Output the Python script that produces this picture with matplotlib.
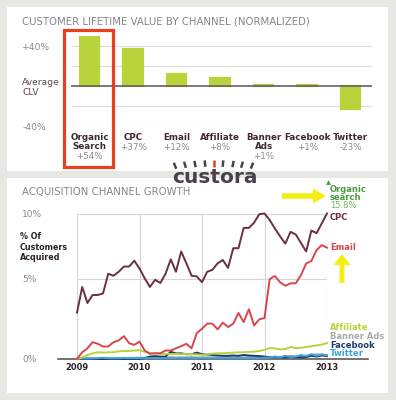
import numpy as np
import matplotlib
matplotlib.use('Agg')
import matplotlib.pyplot as plt
import matplotlib.patches as patches
from matplotlib.transforms import blended_transform_factory

# top chart: customer lifetime value by channel, normalized to the average
channels = ['Organic\nSearch', 'CPC', 'Email', 'Affiliate', 'Banner\nAds', 'Facebook', 'Twitter']
clv = [54, 37, 12, 8, 1, 1, -23]
clv_ticks = [40, 0, -40]
clv_ticklabels = ['+40%', 'Average\nCLV', '-40%']

# bottom chart: % of customers acquired per month, Jan 2009 .. Jan 2013
years = [2009, 2010, 2011, 2012, 2013]
cpc = [2.9, 4.5, 3.5, 4.0, 4.0, 4.1, 5.4, 5.25, 5.55, 5.95, 5.95, 6.4, 5.8,
       5.05, 4.5, 4.95, 4.75, 5.4, 6.5, 5.55, 7.1, 6.2, 5.25, 5.2, 4.8,
       5.55, 5.7, 6.2, 6.45, 5.85, 7.35, 7.35, 8.9, 8.9, 9.3, 9.95, 10.0,
       9.5, 8.85, 8.25, 7.7, 8.6, 8.4, 7.75, 7.1, 8.7, 8.5, 9.25, 10.0]
email = [0.0, 0.42, 0.67, 1.05, 0.95, 0.78, 0.78, 1.05, 1.16, 1.43, 0.99, 0.88, 1.09,
         0.53, 0.32, 0.36, 0.36, 0.53, 0.53, 0.67, 0.8, 0.95, 0.67, 1.62, 1.89,
         2.21, 2.21, 1.85, 2.27, 2.0, 2.21, 2.88, 2.31, 3.11, 2.1, 2.48, 2.56,
         5.0, 5.23, 4.79, 4.58, 4.73, 4.73, 5.3, 6.19, 6.37, 7.21, 7.59, 7.39]
affiliate = [0.0, 0.1, 0.25, 0.35, 0.42, 0.4, 0.42, 0.42, 0.48, 0.5, 0.5, 0.53, 0.55,
             0.45, 0.38, 0.34, 0.32, 0.32, 0.3, 0.32, 0.3, 0.32, 0.3, 0.28, 0.26,
             0.3, 0.33, 0.36, 0.36, 0.38, 0.4, 0.42, 0.42, 0.44, 0.46, 0.5, 0.58,
             0.68, 0.66, 0.6, 0.62, 0.75, 0.68, 0.7, 0.75, 0.8, 0.85, 0.9, 1.0]
banner = [0.05, 0.05, 0.06, 0.06, 0.05, 0.06, 0.07, 0.06, 0.06, 0.07, 0.07, 0.08, 0.08,
          0.08, 0.1, 0.1, 0.09, 0.1, 0.12, 0.1, 0.1, 0.11, 0.12, 0.1, 0.1,
          0.1, 0.11, 0.1, 0.1, 0.12, 0.11, 0.1, 0.1, 0.12, 0.1, 0.1, 0.12,
          0.12, 0.14, 0.12, 0.15, 0.2, 0.15, 0.18, 0.2, 0.25, 0.3, 0.28, 0.25]
facebook = [0.0, 0.0, 0.0, 0.0, 0.0, 0.0, 0.0, 0.0, 0.0, 0.0, 0.0, 0.0, 0.0,
            0.05, 0.15, 0.18, 0.15, 0.15, 0.45, 0.35, 0.35, 0.3, 0.3, 0.4, 0.3,
            0.28, 0.25, 0.22, 0.2, 0.2, 0.22, 0.2, 0.25, 0.22, 0.2, 0.18, 0.15,
            0.12, 0.12, 0.1, 0.1, 0.12, 0.1, 0.1, 0.12, 0.2, 0.15, 0.22, 0.18]
twitter = [0.02, 0.03, 0.03, 0.04, 0.05, 0.08, 0.05, 0.04, 0.05, 0.06, 0.05, 0.05, 0.05,
           0.05, 0.06, 0.05, 0.05, 0.06, 0.05, 0.05, 0.06, 0.05, 0.05, 0.05, 0.06,
           0.05, 0.05, 0.06, 0.05, 0.05, 0.06, 0.05, 0.06, 0.05, 0.05, 0.06, 0.08,
           0.1, 0.15, 0.1, 0.2, 0.12, 0.15, 0.25, 0.18, 0.3, 0.2, 0.28, 0.22]

series = [('Banner Ads', banner, '#a9a9a9'),
          ('Facebook', facebook, '#1f3a6b'),
          ('Twitter', twitter, '#3aa3dc'),
          ('Affiliate', affiliate, '#b6d43a'),
          ('Email', email, '#d8464c'),
          ('CPC', cpc, '#6a2e46')]

W, H = 396, 400
LIME = '#b8d43a'
fig = plt.figure(figsize=(W / 100, H / 100), dpi=100)
fig.patch.set_facecolor('#e7e7e3')


def px(x, y, w, h):
    # pixel box (from top left) -> figure fraction box
    return [x / W, 1 - (y + h) / H, w / W, h / H]


# background panels
bg = fig.add_axes([0, 0, 1, 1], zorder=0)
bg.set_xlim(0, W)
bg.set_ylim(H, 0)
bg.axis('off')
bg.add_patch(patches.Rectangle((7, 7), 381, 164, fc='white', ec='none'))
bg.add_patch(patches.Rectangle((7, 178), 381, 215, fc='white', ec='none'))
bg.text(22, 22, 'CUSTOMER LIFETIME VALUE BY CHANNEL (NORMALIZED)', fontsize=7.3,
        color='#858585', va='center', ha='left')
bg.text(22, 192, 'ACQUISITION CHANNEL GROWTH', fontsize=7.3,
        color='#858585', va='center', ha='left')

# ---------------- top: bar chart ----------------
ax1 = fig.add_axes(px(71, 36, 301, 90), zorder=2)
ax1.patch.set_visible(False)
xpos = np.arange(len(channels))
ax1.bar(xpos, clv, width=0.45, color=LIME, edgecolor=LIME, lw=1.6, zorder=3)
for g in [-40, -20, 20, 40]:
    ax1.axhline(g, color='#dcdcdc', lw=0.8, zorder=1)
ax1.axhline(0, color='#6d5a62', lw=1.2, zorder=4)
ax1.set_xlim(-0.43, 6.49)
ax1.set_ylim(-40, 50)
for s in ax1.spines.values():
    s.set_visible(False)
ax1.set_xticks([])
ax1.set_yticks(clv_ticks, clv_ticklabels)
ax1.tick_params(axis='y', length=0, pad=35, labelsize=6.6, labelcolor='#8a8a8a')
for lab in ax1.get_yticklabels():
    lab.set_ha('left')
ax1.get_yticklabels()[1].set_color('#5a4a50')

tr = blended_transform_factory(ax1.transData, fig.transFigure)
for i, (name, v) in enumerate(zip(channels, clv)):
    nlines = name.count('\n') + 1
    ax1.text(i, 1 - 133 / H, name, transform=tr, ha='center', va='top', fontsize=6.3,
             fontweight='bold', color='#3d2b33', linespacing=1.0)
    ax1.text(i, 1 - (138 + nlines * 9.3) / H, f'{v:+d}%', transform=tr, ha='center',
             va='center', fontsize=6.3, color='#8a8a8a')

# ---------------- bottom: line chart ----------------
# the source axis is not linear: 0-5% is taller than 5-10%


def fwd(y):
    y = np.asarray(y, dtype=float)
    return np.where(y <= 5, y * 16.0, 80.0 + (y - 5) * 13.1)


def inv(p):
    p = np.asarray(p, dtype=float)
    return np.where(p <= 80, p / 16.0, 5 + (p - 80) / 13.1)


ax2 = fig.add_axes(px(77, 213.5, 250, 145.5), zorder=2)
ax2.patch.set_visible(False)
ax2.set_yscale('function', functions=(fwd, inv))
for name, vals, col in series:
    t = years[0] + np.arange(len(vals)) / 12
    ax2.plot(t, vals, color=col, lw=1.4, clip_on=False, solid_joinstyle='round')
ax2.set_xlim(years[0], years[-1])
ax2.set_ylim(0, 10)
ax2.set_xticks(years, [str(y) for y in years])
ax2.set_yticks([0, 5, 10], ['0%', '5%', '10%'])
ax2.grid(True, color='#d6d6d6', lw=0.8)
ax2.set_axisbelow(True)
for s in ax2.spines.values():
    s.set_visible(False)
ax2.tick_params(axis='x', length=0, pad=3, labelsize=6.0, labelcolor='#2e2228')
for lab in ax2.get_xticklabels():
    lab.set_fontweight('bold')
ax2.tick_params(axis='y', length=0, pad=39.5, labelsize=6.5, labelcolor='#8a8a8a')
for lab in ax2.get_yticklabels():
    lab.set_ha('left')
ax2.plot([-0.076, 1.164], [0, 0], transform=ax2.get_yaxis_transform(),
         color='#5a5a5a', lw=1.2, clip_on=False, zorder=1)

# ---------------- overlay: labels, highlight, logo ----------------
fg = fig.add_axes([0, 0, 1, 1], zorder=5)
fg.patch.set_visible(False)
fg.set_xlim(0, W)
fg.set_ylim(H, 0)
fg.axis('off')

fg.text(20, 247, '% Of\nCustomers\nAcquired', fontsize=5.8, fontweight='bold',
        color='#2e2228', va='center', ha='left', linespacing=1.25)

right_labels = [('Organic', 190, '#4d9a3d', 'bold'),
                ('search', 198, '#4d9a3d', 'bold'),
                ('15.8%', 206, '#72b556', 'normal'),
                ('CPC', 217, '#6a2e46', 'bold'),
                ('Email', 247, '#d8464c', 'bold'),
                ('Affiliate', 327.5, '#b6d43a', 'bold'),
                ('Banner Ads', 336.5, '#a9a9a9', 'bold'),
                ('Facebook', 345.5, '#1f3a6b', 'bold'),
                ('Twitter', 354, '#3aa3dc', 'bold')]
for txt, y, col, wt in right_labels:
    fg.text(330, y, txt, fontsize=6.0, fontweight=wt, color=col, va='center', ha='left')
fg.plot(328, 182, marker='^', ms=3.5, color='#4d9a3d', mec='none')

# red highlight box around organic search
fg.add_patch(patches.Rectangle((63.5, 29.5), 49, 137, fill=False, ec='#e8401f', lw=2.3))

# yellow arrows
YEL = '#f3ee14'
fg.add_patch(patches.FancyArrow(282, 196, 44, 0, width=5.5, head_width=15, head_length=13,
                                length_includes_head=True, color=YEL, lw=0))
fg.add_patch(patches.FancyArrow(342, 283, 0, -29, width=5, head_width=17, head_length=11,
                                length_includes_head=True, color=YEL, lw=0))

# custora logo
fg.text(215, 177.5, 'custora', fontsize=14.5, fontweight='bold', color='#4b3f4d',
        ha='center', va='center')
for k, x in enumerate([175, 185, 195, 205, 214, 223, 233, 242, 252]):
    ymid = 163.5 + 0.0015 * (x - 214) ** 2
    d = np.array([x - 214, ymid - 260.0])
    d = d / np.hypot(*d) * 3.2
    col = '#e8401f' if k == 4 else '#4b3f4d'
    fg.plot([x - d[0], x + d[0]], [ymid - d[1], ymid + d[1]], color=col, lw=1.8,
            solid_capstyle='butt')

fig.savefig('out.png', dpi=100, facecolor=fig.get_facecolor())
